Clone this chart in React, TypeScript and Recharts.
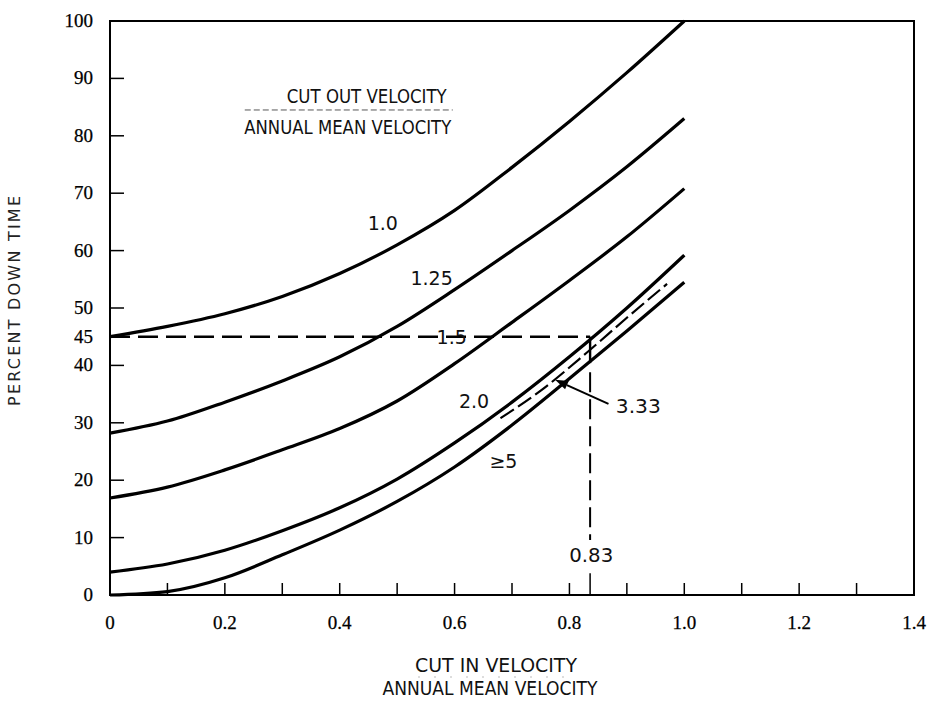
import React from "react"
import { Line, LineChart, ReferenceArea, ReferenceDot, ReferenceLine, XAxis, YAxis } from "recharts"

// cut-in / annual mean velocity
const cutIn = [0, 0.1, 0.2, 0.3, 0.4, 0.5, 0.6, 0.7, 0.8, 0.9, 1.0]

// percent down time, one array per cut-out / annual mean ratio
const ratio1_0 = [45, 46.8, 49, 52, 56, 61, 67, 74.5, 82.5, 91, 100]
const ratio1_25 = [28.2, 30.3, 33.6, 37.3, 41.5, 46.8, 53.2, 60, 67, 74.6, 83]
const ratio1_5 = [16.9, 18.8, 21.8, 25.3, 29, 33.8, 40.3, 47.5, 54.8, 62.4, 70.8]
const ratio2_0 = [4, 5.4, 7.8, 11.2, 15.2, 20.2, 26.5, 33.6, 41.5, 50, 59.2]
const ratio5 = [0, 0.6, 3, 7, 11.3, 16.3, 22.3, 29.6, 37.7, 46, 54.5]

// the dashed 3.33 curve only covers part of the range
const cutIn333 = [0.68, 0.75, 0.83, 0.9, 0.97]
const ratio3_33 = [30.8, 35.6, 42.2, 48.3, 54.2]

const xTicks = [0, 0.1, 0.2, 0.3, 0.4, 0.5, 0.6, 0.7, 0.8, 0.9, 1.0, 1.1, 1.2, 1.3, 1.4]
const xLabels = ["0", "0.2", "0.4", "0.6", "0.8", "1.0", "1.2", "1.4"]
const yTicks = [0, 10, 20, 30, 40, 45, 50, 60, 70, 80, 90, 100]

const curveLabels = [
  { text: "1.0", x: 0.475, y: 64.8 },
  { text: "1.25", x: 0.56, y: 55.2 },
  { text: "1.5", x: 0.595, y: 45 },
  { text: "2.0", x: 0.634, y: 33.8 },
  { text: "≥5", x: 0.685, y: 23.4 },
]

const example = { cutIn: 0.836, downTime: 45 }

const rows = cutIn.map((v, i) => ({
  v,
  r10: ratio1_0[i],
  r125: ratio1_25[i],
  r15: ratio1_5[i],
  r20: ratio2_0[i],
  r5: ratio5[i],
}))
const rows333 = cutIn333.map((v, i) => ({ v, r333: ratio3_33[i] }))

const numFont = "'Liberation Serif', serif"
const narrowFont = "'DejaVu Sans', sans-serif"

function XTick(props: any) {
  const { x, y, payload } = props
  const idx = Math.round(payload.value * 10)
  return (
    <g>
      <line x1={x} x2={x} y1={y} y2={y - 12} stroke="#000" strokeWidth={1.5} />
      {idx % 2 === 0 && (
        <text x={x} y={y + 34} textAnchor="middle" fontFamily={numFont} fontSize={19} fill="#000" stroke="#000" strokeWidth={0.25}>
          {xLabels[idx / 2]}
        </text>
      )}
    </g>
  )
}

function YTick(props: any) {
  const { x, y, payload } = props
  return (
    <g>
      <line x1={x} x2={x + 14} y1={y} y2={y} stroke="#000" strokeWidth={1.5} />
      <text x={x - 17} y={y + 6} textAnchor="end" fontFamily={numFont} fontSize={19} fill="#000" stroke="#000" strokeWidth={0.25}>
        {payload.value}
      </text>
    </g>
  )
}

function textShape(text: string, size = 19, width?: number) {
  return (p: any) => (
    <text
      x={p.cx}
      y={p.cy}
      textAnchor="middle"
      dominantBaseline="central"
      fontFamily={narrowFont}
      fontSize={size}
      fill="#111"
      textLength={width}
      lengthAdjust="spacingAndGlyphs"
    >
      {text}
    </text>
  )
}

function ArrowShape(p: any) {
  const { x1, y1, x2, y2 } = p
  const a = Math.atan2(y2 - y1, x2 - x1)
  const len = 13
  const w = 4.5
  const bx = x2 - len * Math.cos(a)
  const by = y2 - len * Math.sin(a)
  const px = -Math.sin(a) * w
  const py = Math.cos(a) * w
  return (
    <g>
      <line x1={x1} y1={y1} x2={bx} y2={by} stroke="#000" strokeWidth={2} />
      <polygon points={`${x2},${y2} ${bx + px},${by + py} ${bx - px},${by - py}`} fill="#000" />
    </g>
  )
}

export default function App() {
  return (
    <div style={{ position: "absolute", left: 0, top: 0, width: 929, height: 711, background: "#fff" }}>
      <LineChart width={929} height={711} data={rows} margin={{ top: 21, right: 15, bottom: 0, left: 0 }}>
        <XAxis
          dataKey="v"
          type="number"
          domain={[0, 1.4]}
          ticks={xTicks}
          tick={<XTick />}
          tickSize={0}
          tickMargin={0}
          axisLine={false}
          height={116}
          interval={0}
          label={{
            content: () => (
              <g fontFamily={narrowFont} fontSize={20} fill="#111" lengthAdjust="spacingAndGlyphs">
                <text x={496} y={672} textAnchor="middle" textLength={162} lengthAdjust="spacingAndGlyphs">CUT IN VELOCITY</text>
                <line x1={418} x2={575} y1={677} y2={677} stroke="#bbb" strokeWidth={1} strokeDasharray="2 14" />
                <text x={490} y={695} textAnchor="middle" textLength={215} lengthAdjust="spacingAndGlyphs">ANNUAL MEAN VELOCITY</text>
              </g>
            ),
          }}
        />
        <YAxis
          type="number"
          domain={[0, 100]}
          ticks={yTicks}
          tick={<YTick />}
          tickSize={0}
          tickMargin={0}
          axisLine={false}
          width={110}
          interval={0}
          label={{
            content: () => (
              <text
                x={20}
                y={301}
                transform="rotate(-90 20 301)"
                textAnchor="middle"
                fontFamily={narrowFont}
                fontSize={16}
                textLength={210}
                lengthAdjust="spacing"
                fill="#222"
              >
                PERCENT DOWN TIME
              </text>
            ),
          }}
        />
        <ReferenceArea x1={0} x2={1.4} y1={0} y2={100} fill="none" stroke="#000" strokeWidth={2} />

        <Line dataKey="r10" type="monotone" stroke="#000" strokeWidth={3.2} dot={false} isAnimationActive={false} />
        <Line dataKey="r125" type="monotone" stroke="#000" strokeWidth={3.2} dot={false} isAnimationActive={false} />
        <Line dataKey="r15" type="monotone" stroke="#000" strokeWidth={3.2} dot={false} isAnimationActive={false} />
        <Line dataKey="r20" type="monotone" stroke="#000" strokeWidth={3.2} dot={false} isAnimationActive={false} />
        <Line dataKey="r5" type="monotone" stroke="#000" strokeWidth={3.2} dot={false} isAnimationActive={false} />
        <Line
          data={rows333}
          dataKey="r333"
          type="monotone"
          stroke="#000"
          strokeWidth={2.2}
          strokeDasharray="16 5"
          dot={false}
          isAnimationActive={false}
        />

        {/* worked example: 45 % down time at cut-out ratio 1.0 -> cut-in 0.83 */}
        <ReferenceLine
          segment={[{ x: 0, y: example.downTime }, { x: example.cutIn, y: example.downTime }]}
          stroke="#000"
          strokeWidth={2.4}
          strokeDasharray="20 8"
        />
        <ReferenceLine
          segment={[{ x: example.cutIn, y: example.downTime }, { x: example.cutIn, y: 40.4 }]}
          stroke="#000"
          strokeWidth={2.4}
        />
        <ReferenceLine
          segment={[{ x: example.cutIn, y: 38.8 }, { x: example.cutIn, y: 9.6 }]}
          stroke="#000"
          strokeWidth={2}
          strokeDasharray="20 7"
        />
        <ReferenceLine
          segment={[{ x: example.cutIn, y: 0 }, { x: example.cutIn, y: 3.8 }]}
          stroke="#000"
          strokeWidth={1.5}
        />
        <ReferenceLine
          segment={[{ x: 0.868, y: 33.3 }, { x: 0.775, y: 37.5 }]}
          shape={ArrowShape}
        />

        {curveLabels.map((l) => (
          <ReferenceDot key={l.text} x={l.x} y={l.y} r={0} shape={textShape(l.text)} />
        ))}
        <ReferenceDot x={0.92} y={32.9} r={0} shape={textShape("3.33", 20, 45)} />
        <ReferenceDot x={0.838} y={7} r={0} shape={textShape("0.83", 19, 44)} />
        <ReferenceDot
          x={0.414}
          y={84.5}
          r={0}
          shape={(p: any) => (
            <g fontFamily={narrowFont} fontSize={20} fill="#111" textAnchor="middle">
              <text x={p.cx + 19} y={p.cy - 7} textLength={160} lengthAdjust="spacingAndGlyphs">CUT OUT VELOCITY</text>
              <line x1={p.cx - 103} x2={p.cx + 105} y1={p.cy} y2={p.cy} stroke="#555" strokeWidth={1} strokeDasharray="6 3" />
              <text x={p.cx} y={p.cy + 24} textLength={207} lengthAdjust="spacingAndGlyphs">ANNUAL MEAN VELOCITY</text>
            </g>
          )}
        />
      </LineChart>
    </div>
  )
}
